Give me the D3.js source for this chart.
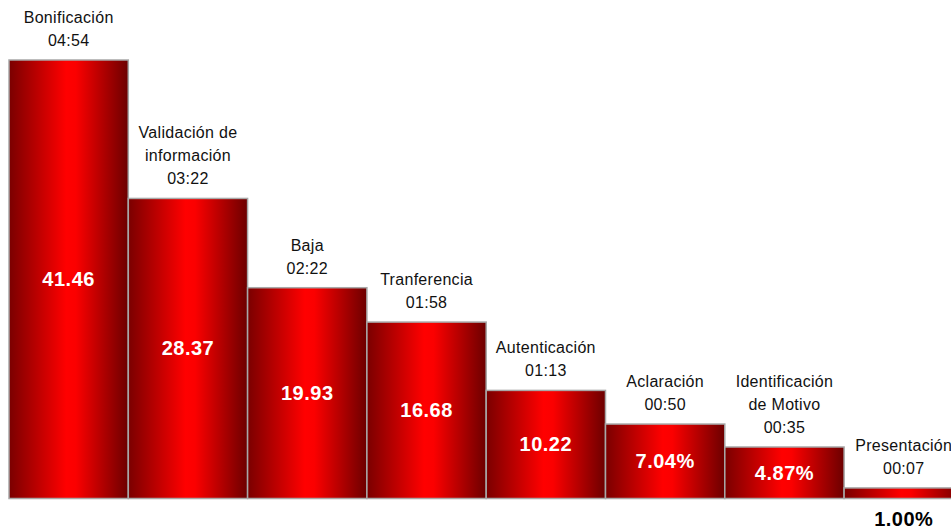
<!DOCTYPE html>
<html>
<head>
<meta charset="utf-8">
<script src="https://d3js.org/d3.v7.min.js"></script>
<style>
  body { margin: 0; background: #fff; }
  text { font-family: "Liberation Sans", Arial, sans-serif; }
</style>
</head>
<body>
<svg id="chart" width="951" height="529"></svg>
<script>
// data
const categories = [
  ["Bonificación"],
  ["Validación de", "información"],
  ["Baja"],
  ["Tranferencia"],
  ["Autenticación"],
  ["Aclaración"],
  ["Identificación", "de Motivo"],
  ["Presentación"]
];
const times = ["04:54", "03:22", "02:22", "01:58", "01:13", "00:50", "00:35", "00:07"];
const values = [41.46, 28.37, 19.93, 16.68, 10.22, 7.04, 4.87, 1.00];
const valueLabels = ["41.46", "28.37", "19.93", "16.68", "10.22", "7.04%", "4.87%", "1.00%"];

const svg = d3.select("svg#chart");
const baseY = 498.5;

const x = d3.scaleBand()
  .domain(d3.range(values.length))
  .range([9, 9 + 119.3 * values.length])
  .padding(0);

const y = d3.scaleLinear()
  .domain([0, 41.46])
  .range([baseY, 60]);

// horizontal red gradient
const grad = svg.append("defs").append("linearGradient")
  .attr("id", "redgrad")
  .attr("x1", "0%").attr("x2", "100%").attr("y1", "0%").attr("y2", "0%");
grad.append("stop").attr("offset", "0%").attr("stop-color", "#7a0000");
grad.append("stop").attr("offset", "48%").attr("stop-color", "#ff0000");
grad.append("stop").attr("offset", "56%").attr("stop-color", "#fb0000");
grad.append("stop").attr("offset", "100%").attr("stop-color", "#6c0000");

const bars = svg.append("g");
bars.selectAll("rect").data(values)
  .join("rect")
  .attr("x", (d, i) => x(i))
  .attr("y", d => y(d))
  .attr("width", x.bandwidth())
  .attr("height", d => baseY - y(d))
  .attr("fill", "url(#redgrad)")
  .attr("stroke", "#a8a8a8")
  .attr("stroke-width", 1.5);

// value labels (small bar gets its label below the baseline)
svg.append("g").selectAll("text").data(values)
  .join("text")
  .attr("x", (d, i) => x(i) + x.bandwidth() / 2)
  .attr("y", d => (baseY - y(d)) < 30 ? baseY + 20 : (y(d) + baseY) / 2)
  .attr("dy", "0.35em")
  .attr("text-anchor", "middle")
  .style("font-size", "20px")
  .style("font-weight", "bold")
  .style("letter-spacing", "0.5px")
  .attr("fill", d => (baseY - y(d)) < 30 ? "#000" : "#fff")
  .text((d, i) => valueLabels[i]);

// category + time labels above bars
const catG = svg.append("g");
values.forEach((v, i) => {
  const lines = categories[i].concat([times[i]]);
  const cx = x(i) + x.bandwidth() / 2;
  const bottom = y(v) - 14;
  const t = catG.append("text")
    .attr("text-anchor", "middle")
    .style("font-size", "16px")
    .style("letter-spacing", "0.3px")
    .attr("fill", "#111");
  lines.forEach((ln, k) => {
    t.append("tspan")
      .attr("x", cx)
      .attr("y", bottom - (lines.length - 1 - k) * 23)
      .text(ln);
  });
});
</script>
</body>
</html>
